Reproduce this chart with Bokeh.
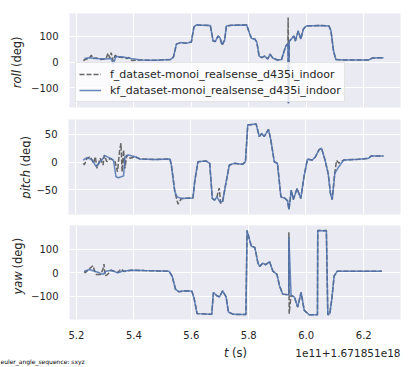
from bokeh.plotting import figure
from bokeh.models import Range1d, FixedTicker, Label, Legend, LegendItem, PrintfTickFormatter
from bokeh.layouts import column, row
from bokeh.embed import file_html
from bokeh.resources import INLINE

# ---------------- data ----------------
x_ticks = [5.2, 5.4, 5.6, 5.8, 6.0, 6.2]
roll_ticks = [-100, 0, 100]
pitch_ticks = [-50, 0, 50]
yaw_ticks = [-100, 0, 100]

label_f = "f_dataset-monoi_realsense_d435i_indoor"
label_kf = "kf_dataset-monoi_realsense_d435i_indoor"

roll_kf_t = [5.228, 5.245, 5.269, 5.303, 5.321, 5.328, 5.338, 5.362, 5.390, 5.424, 5.476, 5.528,
             5.538, 5.548, 5.562, 5.583, 5.600, 5.609, 5.617, 5.666, 5.676, 5.683, 5.693, 5.700,
             5.707, 5.716, 5.722, 5.741, 5.793, 5.803, 5.810, 5.821, 5.828, 5.836, 5.845, 5.855,
             5.866, 5.874, 5.883, 5.900, 5.914, 5.921, 5.929, 5.936, 5.938, 5.941, 5.948, 5.957,
             5.962, 5.972, 5.981, 5.990, 6.000, 6.045, 6.079, 6.086, 6.095, 6.103, 6.131, 6.217,
             6.231, 6.269]
roll_kf = [14, 17, 14, 12, 14, -8, 22, 20, 14, 8, 7, 10,
           20, 70, 76, 74, 78, 137, 145, 143, 82, 80, 102, 94,
           69, 86, 141, 144, 145, 110, 92, 90, 78, 23, 17, 23,
           12, 31, 16, 8, 10, 35, 63, 72, -161, 82, 90, 102,
           82, 122, 90, 129, 141, 143, 141, 122, 43, 10, 8, 8,
           16, 17]

roll_f_t = [5.224, 5.235, 5.245, 5.252, 5.257, 5.269, 5.286, 5.303, 5.310, 5.316, 5.321, 5.328,
            5.335, 5.341, 5.362, 5.376, 5.383, 5.393, 5.424, 5.476, 5.528,
            5.538, 5.548, 5.562, 5.583, 5.600, 5.609, 5.617, 5.666, 5.676, 5.683, 5.693, 5.700,
            5.707, 5.716, 5.722, 5.741, 5.793, 5.803, 5.810, 5.821, 5.828, 5.836, 5.845, 5.855,
            5.866, 5.874, 5.883, 5.900, 5.914, 5.921, 5.929, 5.936, 5.937, 5.938, 5.941, 5.948, 5.957,
            5.962, 5.972, 5.981, 5.990, 6.000, 6.045, 6.079, 6.086, 6.095, 6.103, 6.131, 6.217,
            6.231, 6.269]
roll_f = [6, 12, 16, 27, 14, 16, 10, 12, 35, 16, 37, 4,
          27, 20, 18, 14, 18, 6, 8, 7, 10,
          20, 70, 76, 74, 78, 137, 145, 143, 82, 80, 102, 94,
          65, 86, 141, 144, 145, 110, 92, 90, 78, 23, 17, 23,
          12, 31, 16, 8, 10, 35, 63, 72, 174, -161, 82, 90, 102,
          82, 122, 90, 129, 141, 143, 141, 122, 43, 10, 8, 8,
          16, 17]

pitch_kf_t = [5.227, 5.240, 5.258, 5.272, 5.286, 5.303, 5.321, 5.332, 5.341, 5.349, 5.367, 5.372,
              5.384, 5.407, 5.424, 5.476, 5.528, 5.533, 5.545, 5.553, 5.568, 5.608, 5.614, 5.625,
              5.654, 5.666, 5.675, 5.683, 5.691, 5.702, 5.711, 5.723, 5.734, 5.752, 5.780, 5.790,
              5.798, 5.827, 5.838, 5.847, 5.855, 5.870, 5.878, 5.890, 5.901, 5.913, 5.928, 5.936,
              5.941, 5.949, 5.956, 5.969, 5.982, 5.993, 6.005, 6.022, 6.033, 6.045, 6.054, 6.066,
              6.077, 6.085, 6.091, 6.100, 6.114, 6.131, 6.183, 6.217, 6.227, 6.269]
pitch_kf = [3.6, 8, 4, -8.5, 0.5, 11.5, 6.7, 3.6, -26.7, -28.5, -25, 9.7,
            12.7, 9.7, 5.5, 4.5, 5.5, -5.5, -54, -63, -66, -65, -35, 0.5,
            1.8, -2.4, -66, -69, -63, -73, -71, -36, -5.5, -2.4, -4.2, 0.5,
            67, 69, 46, 52, 46, 59, 40, 0.5, -2.4, -63, -66, -70,
            -86, -51, -68, -48, -66, -27, 5, 3.6, 9.7, 22, 25, 3.6,
            -20.6, -57, -68, -20.6, -8.5, 3.6, 5, 6.7, 11, 11]

pitch_f_t = [5.227, 5.231, 5.240, 5.252, 5.263, 5.269, 5.275, 5.286, 5.296, 5.300, 5.309, 5.321,
             5.338, 5.346, 5.353, 5.358, 5.362, 5.367, 5.372, 5.378, 5.390, 5.407,
             5.424, 5.476, 5.528, 5.533, 5.545, 5.556, 5.568, 5.608, 5.614, 5.625,
             5.654, 5.666, 5.675, 5.683, 5.691, 5.699, 5.704, 5.711, 5.723, 5.734, 5.752, 5.780, 5.790,
             5.798, 5.827, 5.838, 5.847, 5.855, 5.870, 5.878, 5.890, 5.901, 5.913, 5.928, 5.936,
             5.941, 5.949, 5.956, 5.969, 5.982, 5.993, 6.005, 6.022, 6.033, 6.045, 6.054, 6.066,
             6.077, 6.085, 6.091, 6.100, 6.106, 6.114, 6.131, 6.183, 6.217, 6.227, 6.269]
pitch_f = [-2.4, -5, 6.7, 9.7, -2.4, 9.7, -11.5, 6.7, -5.5, 12.7, 0.5, 6.7,
           0.5, -17.6, 19, 34, -17.6, 22, -11.5, 12.7, 6.7, 9.7,
           5.5, 4.5, 5.5, -5.5, -54, -76, -66, -65, -35, 0.5,
           1.8, -2.4, -66, -69, -63, -47, -75, -71, -36, -5.5, -2.4, -4.2, 0.5,
           67, 69, 46, 52, 46, 59, 40, 0.5, -2.4, -63, -66, -70,
           -86, -51, -68, -48, -66, -27, 5, 3.6, 9.7, 22, 25, 3.6,
           -20.6, -57, -68, -20, 3, -2, 3.6, 5, 6.7, 11, 11]

yaw_kf_t = [5.227, 5.246, 5.263, 5.280, 5.292, 5.303, 5.321, 5.344, 5.361, 5.390, 5.436, 5.522,
            5.533, 5.545, 5.556, 5.579, 5.602, 5.610, 5.620, 5.671, 5.677, 5.689, 5.698, 5.709,
            5.721, 5.729, 5.746, 5.790, 5.794, 5.803, 5.809, 5.821, 5.832, 5.838, 5.849, 5.859,
            5.872, 5.884, 5.898, 5.907, 5.918, 5.930, 5.939, 5.9397, 5.947, 5.959, 5.970, 5.982,
            5.993, 6.010, 6.039, 6.040, 6.056, 6.070, 6.075, 6.082, 6.089, 6.097, 6.108, 6.263]
yaw_kf = [5.5, 12.5, 5.5, -1.4, -8, 5.5, 9.7, -1.4, 5.5, 9.7, 8, 5.5,
          -15, -71, -82, -78, -80, -112, -175, -178, -85, -99, -104, -78,
          -104, -168, -178, -179, 179, 137, 112, 107, 40, 26, 40, 33,
          47, 5.5, -8, -57, -92, -94, -96, 150, -96, -105, -147, -85,
          -161, -180, -180, 179, 178, 179, -180, -175, -112, -15, 5.5, 5.5]

yaw_f_t = [5.227, 5.231, 5.246, 5.258, 5.263, 5.269, 5.284, 5.292, 5.296, 5.300, 5.309, 5.321,
           5.344, 5.355, 5.367, 5.390, 5.436, 5.522,
           5.533, 5.545, 5.556, 5.579, 5.602, 5.610, 5.620, 5.671, 5.677, 5.689, 5.698, 5.709,
           5.721, 5.729, 5.746, 5.790, 5.794, 5.803, 5.809, 5.821, 5.832, 5.838, 5.849, 5.859,
           5.872, 5.884, 5.898, 5.907, 5.918, 5.930, 5.939, 5.9395, 5.9405, 5.947, 5.959, 5.970, 5.982,
           5.993, 6.010, 6.039, 6.040, 6.056, 6.070, 6.075, 6.082, 6.089, 6.097, 6.108, 6.263]
yaw_f = [4, -1, 17, 29, 8, -8, -8, 12, 36, -15, -8, 9.7,
         0, 15, 4, 9.7, 8, 5.5,
         -15, -71, -82, -78, -80, -112, -175, -178, -85, -99, -104, -78,
         -104, -168, -178, -179, 179, 137, 112, 107, 40, 26, 40, 33,
         47, 5.5, -8, -57, -92, -94, -96, 172, -175, -96, -105, -147, -85,
         -161, -180, -180, 179, 178, 179, -180, -175, -112, -15, 5.5, 5.5]

# ---------------- style ----------------
FONT = "DejaVu Sans"
TXT = "#262626"
BG = "#EAEAF2"
BLUE = "#4C72B0"
GRAY = "#555555"

x_range = Range1d(5.176, 6.328)


def make_fig(width, height, b_left, b_top, b_bottom, y_lo, y_hi, yticks, show_x):
    p = figure(width=width, height=height, x_range=x_range, y_range=Range1d(y_lo, y_hi),
               output_backend="svg", toolbar_location=None,
               min_border_left=b_left, min_border_right=9,
               min_border_top=b_top, min_border_bottom=b_bottom)
    p.background_fill_color = BG
    p.border_fill_color = "white"
    p.outline_line_color = None
    p.xaxis.ticker = FixedTicker(ticks=x_ticks)
    p.xaxis.formatter = PrintfTickFormatter(format="%.1f")
    p.yaxis.ticker = FixedTicker(ticks=yticks)
    for ax in p.xaxis + p.yaxis:
        ax.axis_line_color = None
        ax.major_tick_line_color = None
        ax.minor_tick_line_color = None
        ax.major_tick_out = 0
        ax.major_tick_in = 0
        ax.minor_tick_out = 0
        ax.minor_tick_in = 0
        ax.major_label_text_font = FONT
        ax.major_label_text_font_size = "10px"
        ax.major_label_text_color = TXT
    p.yaxis.major_label_standoff = 11
    p.xaxis.major_label_standoff = 11
    p.yaxis.major_label_overrides = {
        v: ("\u2212" + str(abs(v)) if v < 0 else str(v)) for v in yticks}
    p.xgrid.grid_line_color = "white"
    p.ygrid.grid_line_color = "white"
    p.xgrid.grid_line_width = 1
    p.ygrid.grid_line_width = 1
    p.xaxis.visible = show_x
    return p


def text_fig(width, height):
    f = figure(width=width, height=height, x_range=Range1d(0, width), y_range=Range1d(0, height),
               output_backend="svg", toolbar_location=None, x_axis_type=None, y_axis_type=None,
               min_border_left=0, min_border_right=0, min_border_top=0, min_border_bottom=0)
    f.outline_line_color = None
    f.background_fill_color = "white"
    f.border_fill_color = "white"
    f.grid.visible = False
    return f


def draw(p, ft, fv, kt, kv):
    rf = p.line(ft, fv, line_color=GRAY, line_width=1.5, line_dash="5 2", line_alpha=0.9)
    rk = p.line(kt, kv, line_color=BLUE, line_width=1.5, line_alpha=0.85)
    return rf, rk


def ylabel(f, x, y_end, y_start, word):
    f.add_layout(Label(x=x, y=y_end, text=word,
                       angle=1.5707963, text_align="right", text_baseline="middle",
                       text_font=FONT, text_font_size="11.5px", text_font_style="italic",
                       text_color=TXT))
    f.add_layout(Label(x=x, y=y_start, text="(deg)",
                       angle=1.5707963, text_align="left", text_baseline="middle",
                       text_font=FONT, text_font_size="11.5px", text_color=TXT))


p1 = make_fig(381, 113, 40, 13, 6, -178, 190, roll_ticks, False)
p2 = make_fig(378, 106, 37, 6, 5, -95, 77, pitch_ticks, False)
p3 = make_fig(381, 122, 40, 6, 20, -200, 200, yaw_ticks, True)

r1f, r1k = draw(p1, roll_f_t, roll_f, roll_kf_t, roll_kf)
draw(p2, pitch_f_t, pitch_f, pitch_kf_t, pitch_kf)
draw(p3, yaw_f_t, yaw_f, yaw_kf_t, yaw_kf)

legend = Legend(items=[LegendItem(label=label_f, renderers=[r1f]),
                       LegendItem(label=label_kf, renderers=[r1k])],
                location=(6, 5), orientation="vertical",
                label_text_font=FONT, label_text_font_size="11px", label_text_color=TXT,
                glyph_width=22, glyph_height=16, label_height=16, label_standoff=9,
                spacing=0, padding=3, margin=0,
                background_fill_color="white", background_fill_alpha=0.8,
                border_line_color="#cccccc", border_line_width=1)
p1.add_layout(legend)

l1 = text_fig(28, 113)
l2 = text_fig(31, 106)
l3 = text_fig(28, 122)
ylabel(l1, 16, 45, 48.6, "roll")
ylabel(l2, 25, 49.6, 53.3, "pitch")
ylabel(l3, 17.7, 62.5, 66.2, "yaw")

strip = text_fig(409, 26)
strip.add_layout(Label(x=228, y=15, text="t", text_align="right", text_baseline="middle",
                       text_font=FONT, text_font_size="11.5px", text_font_style="italic",
                       text_color=TXT))
strip.add_layout(Label(x=231.5, y=15, text="(s)", text_align="left", text_baseline="middle",
                       text_font=FONT, text_font_size="11.5px", text_color=TXT))
strip.add_layout(Label(x=400, y=15, text="1e11+1.671851e18", text_align="right",
                       text_baseline="middle", text_font=FONT, text_font_size="10.5px",
                       text_color=TXT))
strip.add_layout(Label(x=0, y=6, text="euler_angle_sequence: sxyz", text_align="left",
                       text_baseline="middle", text_font=FONT, text_font_size="6px",
                       text_color="#000000"))

layout = column(row(l1, p1, spacing=0), row(l2, p2, spacing=0), row(l3, p3, spacing=0),
                strip, spacing=0)
open("out.html", "w").write(file_html(layout, INLINE))
